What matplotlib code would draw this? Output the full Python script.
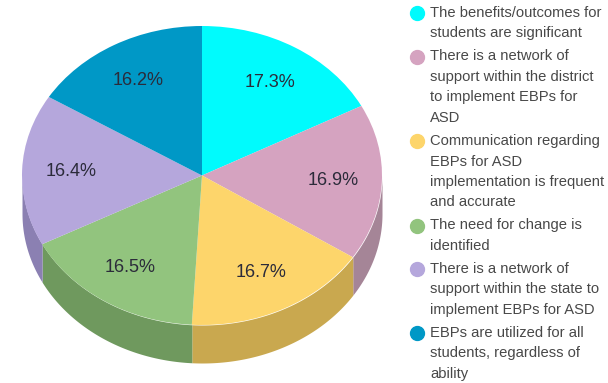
import numpy as np
import matplotlib.pyplot as plt
from matplotlib.lines import Line2D

# data
labels = [
    "The benefits/outcomes for\nstudents are significant",
    "There is a network of\nsupport within the district\nto implement EBPs for\nASD",
    "Communication regarding\nEBPs for ASD\nimplementation is frequent\nand accurate",
    "The need for change is\nidentified",
    "There is a network of\nsupport within the state to\nimplement EBPs for ASD",
    "EBPs are utilized for all\nstudents, regardless of\nability",
]
values = [17.3, 16.9, 16.7, 16.5, 16.4, 16.2]

top_colors = ["#00fbfd", "#d5a3c0", "#fdd56b", "#92c47e", "#b5a7dc", "#0098c6"]
side_colors = ["#00c4c8", "#a58597", "#c9a84f", "#6f995e", "#8b80b2", "#00789c"]

W, H = 608, 383
cx, cy = 202, 175.5   # pie centre in pixels
rx, ry = 180, 149.5   # pixels per data unit
depth = 38 / ry

fig = plt.figure(figsize=(W / 100, H / 100), dpi=100)

# axes box in pixels, data limits follow from the centre/scale
L, R, T, B = 6, 398, 10, 378
ax = fig.add_axes([L / W, 1 - B / H, (R - L) / W, (B - T) / H])

wedges, texts, autotexts = ax.pie(
    values, colors=top_colors, startangle=90, counterclock=False,
    autopct="%.1f%%", pctdistance=0.73, radius=1,
    wedgeprops=dict(linewidth=0, zorder=3),
    textprops=dict(fontsize=13, color="#2b2b3a", family="Liberation Sans"),
)
for t in autotexts:
    t.set_zorder(5)

# side wall of the front half (angles below the horizontal)
ends = 90 - 360 * np.cumsum(values) / sum(values)
starts = np.concatenate([[90], ends[:-1]])
for a0, a1, col in zip(starts, ends, side_colors):
    t = np.radians(np.linspace(a1, a0, 200))
    t = t[np.sin(t) <= 0]
    if len(t) < 2:
        continue
    ax.fill_between(np.cos(t), np.sin(t), np.sin(t) - depth, color=col, lw=0, zorder=2)

ax.set_aspect("auto")
ax.set_xlim((L - cx) / rx, (R - cx) / rx)
ax.set_ylim((cy - B) / ry, (cy - T) / ry)
ax.axis("off")

# legend, one text per line so the spacing is exact
line_h = 20.5
y = 13
for lab, col in zip(labels, top_colors):
    fig.add_artist(Line2D([417 / W], [1 - y / H], marker="o", markersize=10,
                          color=col, linestyle="none"))
    for i, line in enumerate(lab.split("\n")):
        fig.text(430 / W, 1 - (y + i * line_h) / H, line, fontsize=10.6,
                 family="Liberation Sans", color="#484848",
                 va="center", ha="left")
    y += line_h * (lab.count("\n") + 1) + 2.5

fig.savefig("out.png", dpi=100)
